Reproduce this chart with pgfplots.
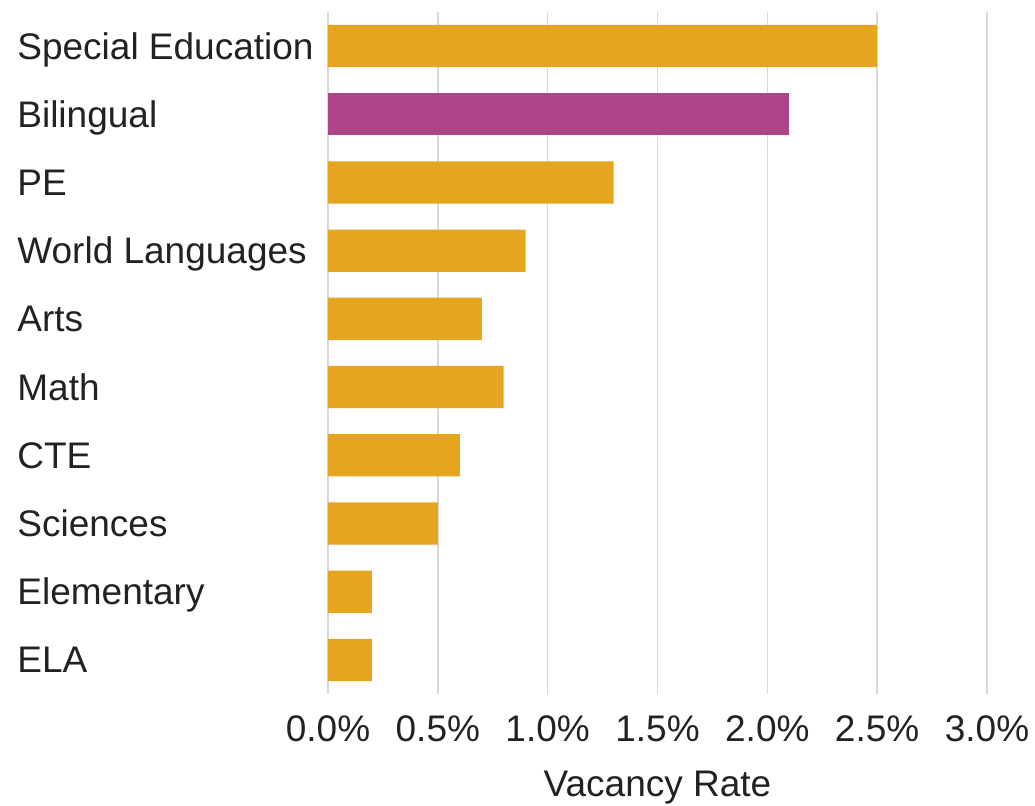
\documentclass[border=0pt]{standalone}
\usepackage{fontspec}
\setmainfont{Liberation Sans}
\usepackage{pgfplots}
\pgfplotsset{compat=1.18}
\definecolor{barorange}{HTML}{E6A51E}
\definecolor{barpurple}{HTML}{AD4389}
\definecolor{gridgray}{HTML}{D9D9D9}
\definecolor{txt}{HTML}{222222}
\begin{document}
\begin{tikzpicture}
\begin{axis}[
  scale only axis, width=329.5pt, height=341pt,
  xmin=0, xmax=3.0, ymin=-0.5, ymax=9.5,
  xbar, bar width=0.62, bar shift=0pt,
  clip=false,
  axis line style={draw=none},
  major tick length=0pt,
  xtick={0,0.5,1,1.5,2,2.5,3},
  xmajorgrids, grid style={gridgray, line width=0.75pt},
  ytick={0,1,2,3,4,5,6,7,8,9},
  yticklabels={ELA,Elementary,Sciences,CTE,Math,Arts,World Languages,PE,Bilingual,Special Education},
  /pgf/number format/assume math mode=true,
  xticklabel={\pgfmathprintnumber[fixed,fixed zerofill,precision=1]{\tick}\%},
  ticklabel style={font=\fontsize{18.5}{22}\selectfont, text=txt},
  xticklabel style={anchor=base, inner sep=0pt, yshift=-23.75pt},
  yticklabel style={anchor=base west, inner sep=0pt, xshift=-155.5pt, yshift=-6.5pt},
  xlabel={Vacancy Rate},
  xlabel style={at={(axis description cs:0.5,0)}, anchor=base, inner sep=0pt, yshift=-51.5pt, font=\fontsize{18.5}{22}\selectfont, text=txt},
]
\addplot[fill=barorange, draw=none] coordinates {(0.2,0) (0.2,1) (0.5,2) (0.6,3) (0.8,4) (0.7,5) (0.9,6) (1.3,7) (2.5,9)};
\addplot[fill=barpurple, draw=none] coordinates {(2.1,8)};
\path (axis description cs:-0.49772,-0.16276) rectangle (axis description cs:1.07284,1.01760);
\end{axis}
\end{tikzpicture}
\end{document}
